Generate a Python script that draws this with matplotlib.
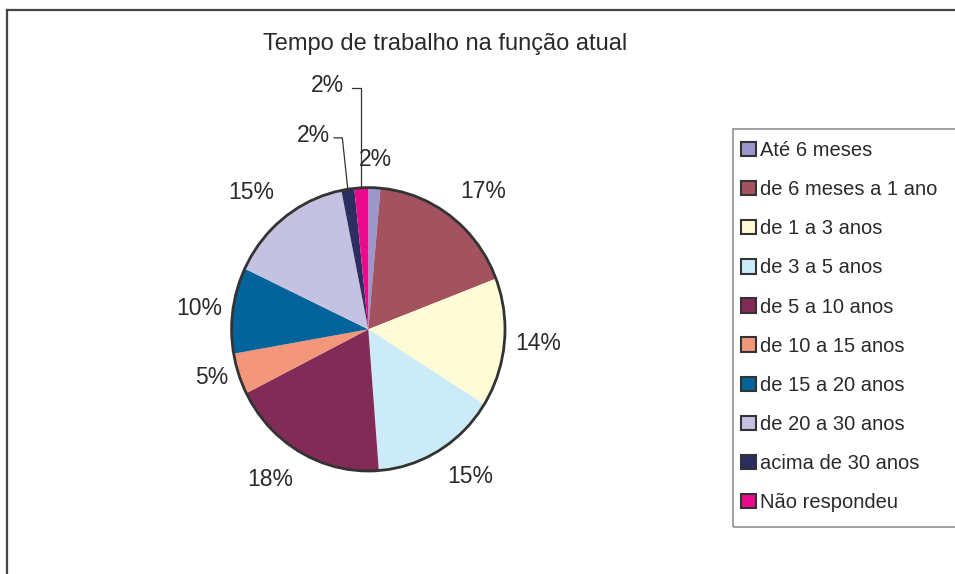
import numpy as np
import matplotlib.pyplot as plt
from matplotlib.patches import Patch, Circle, Rectangle
from matplotlib.lines import Line2D

plt.rcParams['font.family'] = ['Liberation Sans', 'DejaVu Sans']

titulo = 'Tempo de trabalho na função atual'
categorias = ['Até 6 meses', 'de 6 meses a 1 ano', 'de 1 a 3 anos', 'de 3 a 5 anos',
              'de 5 a 10 anos', 'de 10 a 15 anos', 'de 15 a 20 anos',
              'de 20 a 30 anos', 'acima de 30 anos', 'Não respondeu']
# slice sizes (shown labels are the rounded values)
fatias = [1.4, 17.4, 14.4, 14.6, 18.4, 4.6, 9.6, 14.5, 1.5, 1.6]
rotulos = ['2%', '17%', '14%', '15%', '18%', '5%', '10%', '15%', '2%', '2%']
cores = ['#9B97CB', '#A3525F', '#FFFBD6', '#CCEBF8', '#812B56', '#F4967A',
         '#02649A', '#C5C2E1', '#2C2D60', '#EC0A8C']

W, H = 955, 574
fig = plt.figure(figsize=(W / 100, H / 100), dpi=100)
txt = '#2a2a2a'

# outer frame, cut on the right and bottom like the original
fig.add_artist(Line2D([7 / W, 7 / W], [0, 1 - 9.5 / H], transform=fig.transFigure,
                      color='#444444', lw=1.6))
fig.add_artist(Line2D([7 / W, 1], [1 - 9.5 / H, 1 - 9.5 / H], transform=fig.transFigure,
                      color='#444444', lw=1.6))

fig.text(445 / W, 1 - 44 / H, titulo, ha='center', va='center', fontsize=17, color=txt)

# pie: slightly taller than wide
cx, cy, rx, ry = 368.3, 329.3, 136.7, 141.7
ax = fig.add_axes([(cx - rx) / W, 1 - (cy + ry) / H, 2 * rx / W, 2 * ry / H])
wedges, _ = ax.pie(fatias, colors=cores, startangle=90, counterclock=False,
                   radius=1, wedgeprops=dict(linewidth=0))
ax.set_aspect('auto')
ax.set_xlim(-1, 1)
ax.set_ylim(-1, 1)
ax.axis('off')
ax.add_patch(Circle((0, 0), 1, fill=False, lw=2, ec='#333333', clip_on=False))

# labels with leader lines for the two thin slices at the top
leaders = {8: (-0.28, 1.371, -0.25, -0.19), 9: (-0.178, 1.724, -0.12, None)}
for i, w in enumerate(wedges):
    mid = np.deg2rad((w.theta1 + w.theta2) / 2)
    c, s = np.cos(mid), np.sin(mid)
    if i in leaders:
        lx, ly, x0, knee = leaders[i]
        if knee is None:
            knee = c
        ax.text(lx, ly, rotulos[i], ha='right', va='center', fontsize=16.5, color=txt)
        yl = ly - 0.02
        ax.plot([x0, knee, c], [yl, yl, s], color='#333333', lw=0.9, clip_on=False)
        continue
    ha = 'center' if abs(c) < 0.15 else ('left' if c > 0 else 'right')
    va = 'bottom' if s > 0.5 else ('top' if s < -0.5 else 'center')
    r = 1.08 if abs(s) < 0.5 else 1.12
    ax.text(r * c, r * s, rotulos[i], ha=ha, va=va, fontsize=16.5, color=txt)

# legend
fig.add_artist(Rectangle((733 / W, 1 - 527 / H), 0.5, (527 - 129) / H,
                         transform=fig.transFigure, fill=False, ec='#888888', lw=1.1))
handles = [Patch(facecolor=c, edgecolor='#333333', lw=1.5) for c in cores]
fig.legend(handles, categorias, loc='upper left', bbox_to_anchor=(741 / W, 1 - 141 / H),
           frameon=False, fontsize=14.5, handlelength=0.72, handleheight=0.72,
           handletextpad=0.2, labelspacing=1.0, borderpad=0, borderaxespad=0,
           labelcolor=txt)

fig.savefig('out.png', dpi=100)
